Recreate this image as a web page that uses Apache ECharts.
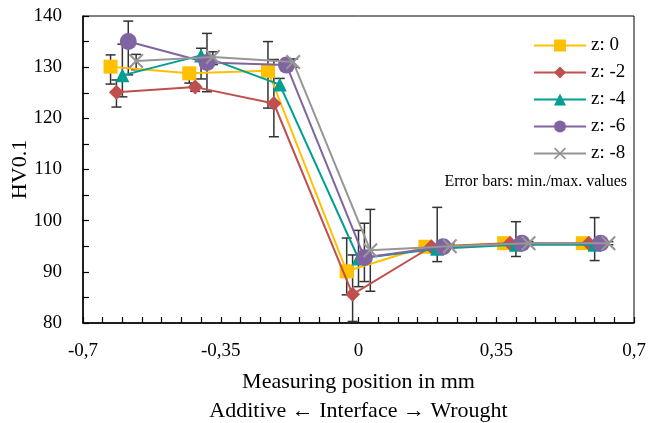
<!DOCTYPE html>
<html>
<head>
<meta charset="utf-8">
<script src="https://cdn.jsdelivr.net/npm/echarts@6/dist/echarts.min.js"></script>
<style>
html,body{margin:0;padding:0;background:#fff;}
#chart{width:649px;height:423px;}
</style>
</head>
<body>
<div id="chart"></div>
<script>
const seriesNames = ['z: 0', 'z: -2', 'z: -4', 'z: -6', 'z: -8'];
const xTickLabels = ['-0,7', '-0,35', '0', '0,35', '0,7'];
const yTickLabels = ['80', '90', '100', '110', '120', '130', '140'];

const pos0 = [-0.63, -0.43, -0.23, -0.03, 0.17, 0.37, 0.57];
const pos2 = [-0.615, -0.415, -0.215, -0.015, 0.185, 0.385, 0.585];
const pos4 = [-0.60, -0.40, -0.20, 0.0, 0.20, 0.40, 0.60];
const pos6 = [-0.585, -0.385, -0.183, 0.015, 0.215, 0.415, 0.615];
const pos8 = [-0.565, -0.37, -0.166, 0.03, 0.232, 0.432, 0.635];

const hv0 = [130.1, 128.8, 129.3, 90.1, 94.9, 95.6, 95.6];
const hv2 = [125.1, 126.1, 122.9, 85.6, 94.9, 95.6, 95.6];
const hv4 = [128.4, 132.3, 126.6, 92.6, 94.5, 95.3, 95.3];
const hv6 = [135.0, 130.9, 130.4, 92.8, 94.9, 95.6, 95.6];
const hv8 = [131.2, 132.0, 131.0, 94.2, 95.0, 95.6, 95.6];

const min0 = [126.7, 126.9, 122.0, 85.5, 94.5, 95.2, 95.2];
const max0 = [132.4, 129.8, 135.0, 96.6, 95.3, 96.0, 96.0];
const min2 = [122.2, 125.3, 116.4, 80.3, 94.5, 95.2, 95.2];
const max2 = [127.5, 126.6, 131.5, 93.3, 95.3, 96.0, 96.0];
const min4 = [124.2, 127.7, 125.5, 87.1, 92.0, 93.0, 92.2];
const max4 = [134.5, 133.7, 127.8, 98.1, 102.6, 99.8, 100.6];
const min6 = [128.5, 125.2, 129.5, 88.1, 94.5, 95.2, 95.2];
const max6 = [139.0, 136.6, 131.5, 99.5, 95.3, 96.0, 96.0];
const min8 = [129.5, 130.5, 130.0, 86.2, 94.6, 95.3, 95.3];
const max8 = [132.5, 133.0, 131.6, 102.2, 95.4, 95.9, 95.9];

const colors = ['#FFC000', '#C0504D', '#009E93', '#8064A2', '#969696'];
const crossPath = 'path://M0,1 L1,0 L5,4 L9,0 L10,1 L6,5 L10,9 L9,10 L5,6 L1,10 L0,9 L4,5 Z';
const symbols = ['rect', 'diamond', 'triangle', 'circle', crossPath];
const symbolSizes = [14, 15, 14, 17, 15];

const allPos = [pos0, pos2, pos4, pos6, pos8];
const allHv = [hv0, hv2, hv4, hv6, hv8];
const allMin = [min0, min2, min4, min6, min8];
const allMax = [max0, max2, max4, max6, max8];

const FONT = '"Liberation Serif", "Times New Roman", serif';

function errRender(params, api) {
  const x = api.value(0), lo = api.value(1), hi = api.value(2);
  const p1 = api.coord([x, hi]);
  const p2 = api.coord([x, lo]);
  const w = 5;
  const st = {stroke: '#333', lineWidth: 1.5};
  return {type: 'group', children: [
    {type: 'line', shape: {x1: p1[0], y1: p1[1], x2: p2[0], y2: p2[1]}, style: st},
    {type: 'line', shape: {x1: p1[0] - w, y1: p1[1], x2: p1[0] + w, y2: p1[1]}, style: st},
    {type: 'line', shape: {x1: p2[0] - w, y1: p2[1], x2: p2[0] + w, y2: p2[1]}, style: st}
  ]};
}

const series = [];
for (let i = 0; i < 5; i++) {
  series.push({
    name: seriesNames[i] + ' err',
    type: 'custom',
    renderItem: errRender,
    data: allPos[i].map((x, j) => [x, allMin[i][j], allMax[i][j]]),
    z: 1,
    silent: true
  });
}
for (let i = 0; i < 5; i++) {
  series.push({
    name: seriesNames[i],
    type: 'line',
    data: allPos[i].map((x, j) => [x, allHv[i][j]]),
    symbol: symbols[i],
    symbolSize: symbolSizes[i],
    showAllSymbol: true,
    lineStyle: {color: colors[i], width: 2},
    itemStyle: {color: colors[i]},
    z: 2 + i,
    animation: false
  });
}

const chart = echarts.init(document.getElementById('chart'));
chart.setOption({
  animation: false,
  backgroundColor: '#fff',
  grid: {left: 83, right: 15, top: 16, bottom: 100, show: true, borderColor: '#000', borderWidth: 1, containLabel: false, outerBoundsMode: 'none'},
  legend: {
    data: seriesNames,
    orient: 'vertical',
    left: 533,
    top: 36,
    padding: 0,
    itemWidth: 52,
    itemHeight: 15,
    itemGap: 8,
    textStyle: {fontFamily: FONT, fontSize: 19, color: '#000'}
  },
  graphic: [{
    type: 'text',
    right: 22,
    top: 174,
    style: {text: 'Error bars: min./max. values', font: '16px ' + FONT, fill: '#000'}
  }],
  xAxis: {
    type: 'value',
    min: -0.7, max: 0.7, interval: 0.35,
    name: 'Measuring position in mm\nAdditive \u2190 Interface \u2192 Wrought',
    nameLocation: 'middle',
    nameGap: 45,
    nameMoveOverlap: false,
    nameTextStyle: {fontFamily: FONT, fontSize: 22, color: '#000', lineHeight: 29, verticalAlign: 'top'},
    axisLine: {onZero: false, lineStyle: {color: '#000', width: 1.5}},
    axisTick: {inside: true, length: 6, lineStyle: {color: '#000', width: 1.2}},
    minorTick: {show: true, splitNumber: 7, length: 6, lineStyle: {color: '#000', width: 1.2}},
    splitLine: {show: false},
    axisLabel: {
      fontFamily: FONT, fontSize: 19, color: '#000', margin: 19,
      formatter: function (v) {
        const idx = Math.round((v + 0.7) / 0.35);
        return xTickLabels[idx] !== undefined ? xTickLabels[idx] : '';
      }
    }
  },
  yAxis: {
    type: 'value',
    min: 80, max: 140, interval: 10,
    name: 'HV0.1',
    nameLocation: 'middle',
    nameGap: 52,
    nameMoveOverlap: false,
    nameTextStyle: {fontFamily: FONT, fontSize: 22, color: '#000'},
    axisLine: {show: true, onZero: false, lineStyle: {color: '#000', width: 1.5}},
    axisTick: {inside: true, length: 6, lineStyle: {color: '#000', width: 1.2}},
    minorTick: {show: true, splitNumber: 2, length: 6, lineStyle: {color: '#000', width: 1.2}},
    splitLine: {show: false},
    axisLabel: {
      fontFamily: FONT, fontSize: 19, color: '#000', margin: 21,
      formatter: function (v) {
        const idx = Math.round((v - 80) / 10);
        return yTickLabels[idx] !== undefined ? yTickLabels[idx] : '';
      }
    }
  },
  series: series
});
</script>
</body>
</html>
